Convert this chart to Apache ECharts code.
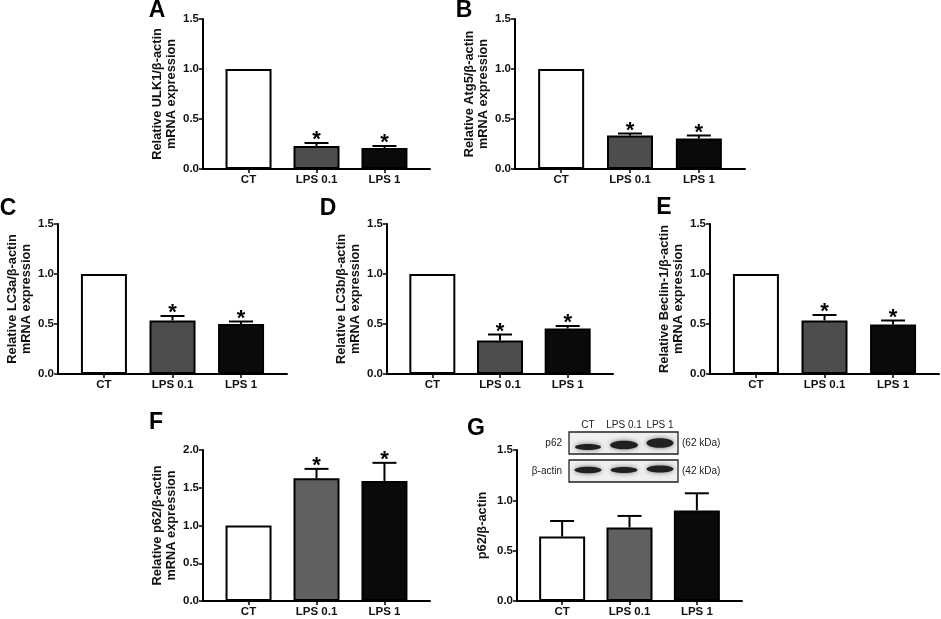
<!DOCTYPE html>
<html>
<head>
<meta charset="utf-8">
<script src="https://cdn.jsdelivr.net/npm/echarts@6/dist/echarts.min.js"></script>
<style>
html, body { margin: 0; padding: 0; background: #fff; }
#chart { width: 941px; height: 619px; }
</style>
</head>
<body>
<div id="chart"></div>
<script type="text/javascript">

var FONT = '"Liberation Sans", Arial, sans-serif';

// groups on every x axis
var groups = ['CT', 'LPS 0.1', 'LPS 1'];

// mean and SEM
var ulk1Mean = [1.00, 0.23, 0.21];
var ulk1Sem = [0, 0.03, 0.02];
var atg5Mean = [1.00, 0.335, 0.305];
var atg5Sem = [0, 0.02, 0.03];
var lc3aMean = [1.00, 0.535, 0.50];
var lc3aSem = [0, 0.045, 0.025];
var lc3bMean = [1.00, 0.335, 0.455];
var lc3bSem = [0, 0.06, 0.025];
var beclinMean = [1.00, 0.535, 0.495];
var beclinSem = [0, 0.055, 0.04];
var p62MrnaMean = [1.00, 1.625, 1.59];
var p62MrnaSem = [0, 0.125, 0.24];
var p62ProteinMean = [0.64, 0.73, 0.90];
var p62ProteinSem = [0.155, 0.115, 0.17];

// * = significant vs CT
var starMarks = [0, 1, 1];
var noMarks = [0, 0, 0];

// western blot inset
var blotRows = ['p62', 'β-actin'];
var blotSizes = ['(62 kDa)', '(42 kDa)'];

var panels = [
    {letter: 'A', title: 'Relative ULK1/β-actin\nmRNA expression', mean: ulk1Mean, sem: ulk1Sem, marks: starMarks,
        box: [203, 19, 227, 150], max: 1.5, letterAt: [157, 11], mid: '#4d4d4d'},
    {letter: 'B', title: 'Relative Atg5/β-actin\nmRNA expression', mean: atg5Mean, sem: atg5Sem, marks: starMarks,
        box: [515, 19, 230, 150], max: 1.5, letterAt: [464, 11], mid: '#4d4d4d'},
    {letter: 'C', title: 'Relative LC3a/β-actin\nmRNA expression', mean: lc3aMean, sem: lc3aSem, marks: starMarks,
        box: [58, 224, 229, 150], max: 1.5, letterAt: [8, 209], mid: '#4d4d4d'},
    {letter: 'D', title: 'Relative LC3b/β-actin\nmRNA expression', mean: lc3bMean, sem: lc3bSem, marks: starMarks,
        box: [387, 224, 226, 150], max: 1.5, letterAt: [328, 209], mid: '#4d4d4d'},
    {letter: 'E', title: 'Relative Beclin-1/β-actin\nmRNA expression', mean: beclinMean, sem: beclinSem, marks: starMarks,
        box: [710, 224, 229, 150], max: 1.5, letterAt: [664, 208], mid: '#4d4d4d'},
    {letter: 'F', title: 'Relative p62/β-actin\nmRNA expression', mean: p62MrnaMean, sem: p62MrnaSem, marks: starMarks,
        box: [203, 450, 227, 151], max: 2.0, letterAt: [156, 423], mid: '#606060'},
    {letter: 'G', title: 'p62/β-actin', mean: p62ProteinMean, sem: p62ProteinSem, marks: noMarks,
        box: [517, 450, 225, 151], max: 1.5, letterAt: [476, 429], mid: '#606060'}
];

function renderErr(params, api) {
    var x = api.value(0), m = api.value(1), e = api.value(2), s = api.value(3);
    var base = api.coord([x, m]);
    var top = api.coord([x, m + e]);
    var kids = [];
    if (e > 0) {
        kids.push({type: 'line', shape: {x1: base[0], y1: base[1], x2: top[0], y2: top[1]},
            style: {stroke: '#000', lineWidth: 2}});
        kids.push({type: 'line', shape: {x1: top[0] - 12, y1: top[1], x2: top[0] + 12, y2: top[1]},
            style: {stroke: '#000', lineWidth: 2}});
    }
    if (s) {
        kids.push({type: 'text', x: top[0], y: top[1] - 3,
            style: {text: '*', fontSize: 22, fontWeight: 'bold', fontFamily: FONT, fill: '#000',
                align: 'center', verticalAlign: 'middle'}});
    }
    return {type: 'group', children: kids};
}

var grids = [], xAxes = [], yAxes = [], series = [], graphics = [];

panels.forEach(function (p, k) {
    var twoLines = p.title.indexOf('\n') >= 0;
    grids.push({left: p.box[0], top: p.box[1], width: p.box[2], height: p.box[3], containLabel: false});
    xAxes.push({
        type: 'value', gridIndex: k, min: -0.67, max: 2.67,
        axisLine: {show: true, onZero: false, lineStyle: {color: '#000', width: 2}},
        axisTick: {show: true, customValues: [0, 1, 2], length: 4, lineStyle: {color: '#000', width: 1.5}},
        axisLabel: {customValues: [0, 1, 2], margin: 5, fontSize: 11.5, fontWeight: 'bold', fontFamily: FONT, color: '#111',
            formatter: function (v) { return groups[Math.round(v)]; }},
        splitLine: {show: false}
    });
    yAxes.push({
        type: 'value', gridIndex: k, min: 0, max: p.max, interval: 0.5,
        name: p.title, nameLocation: 'middle', nameRotate: 90, nameGap: twoLines ? 25 : 28,
        nameTextStyle: {fontSize: 12.8, fontWeight: 'bold', fontFamily: FONT, color: '#111', lineHeight: 14},
        axisLine: {show: true, onZero: false, lineStyle: {color: '#000', width: 2}},
        axisTick: {show: true, length: 4, lineStyle: {color: '#000', width: 1.5}},
        axisLabel: {margin: 4, fontSize: 11.5, fontWeight: 'bold', fontFamily: FONT, color: '#111',
            formatter: function (v) { return v.toFixed(1); }},
        splitLine: {show: false}
    });
    var colors = ['#ffffff', p.mid, '#0a0a0a'];
    series.push({
        type: 'bar', xAxisIndex: k, yAxisIndex: k, barWidth: 46,
        itemStyle: {borderColor: '#000', borderWidth: 2},
        data: p.mean.map(function (v, i) { return {value: [i, v], itemStyle: {color: colors[i]}}; }),
        silent: true, z: 2
    });
    series.push({
        type: 'custom', xAxisIndex: k, yAxisIndex: k, renderItem: renderErr,
        encode: {x: 0, y: 1},
        data: p.mean.map(function (v, i) { return [i, v, p.sem[i], p.marks[i]]; }),
        silent: true, z: 3
    });
    graphics.push({type: 'text', x: p.letterAt[0], y: p.letterAt[1],
        style: {text: p.letter, fontSize: 23, fontWeight: 'bold', fontFamily: FONT, fill: '#000',
            align: 'center', verticalAlign: 'middle'}});
});

// blot inset of panel G
var laneX = [588, 624, 660];
var boxY = [443, 471];
var bandY = [[447, 445, 443], [470, 470, 469]];
var bandW = [[13, 14, 13.5], [13.5, 13.5, 13.5]];
var bandH = [[3, 4.3, 4.8], [3.2, 3, 3.5]];
groups.forEach(function (g, i) {
    graphics.push({type: 'text', x: laneX[i], y: 425,
        style: {text: g, fontSize: 10, fontFamily: FONT, fill: '#222', align: 'center', verticalAlign: 'middle'}});
});
blotRows.forEach(function (r, j) {
    graphics.push({type: 'rect', shape: {x: 569, y: boxY[j] - 11, width: 109, height: 22},
        style: {fill: '#efefef', stroke: '#222', lineWidth: 1.3}, z: 5});
    graphics.push({type: 'text', x: 562, y: boxY[j],
        style: {text: r, fontSize: 10, fontFamily: FONT, fill: '#222', align: 'right', verticalAlign: 'middle'}});
    graphics.push({type: 'text', x: 682, y: boxY[j],
        style: {text: blotSizes[j], fontSize: 10, fontFamily: FONT, fill: '#222', align: 'left', verticalAlign: 'middle'}});
    laneX.forEach(function (x, i) {
        graphics.push({type: 'ellipse', shape: {cx: x, cy: bandY[j][i], rx: bandW[j][i], ry: bandH[j][i]},
            style: {fill: '#202020', shadowBlur: 5, shadowColor: 'rgba(0,0,0,0.55)'}, z: 6});
    });
});

var chart = echarts.init(document.getElementById('chart'), null, {renderer: 'canvas'});
chart.setOption({
    animation: false,
    backgroundColor: '#fff',
    textStyle: {fontFamily: FONT},
    grid: grids,
    xAxis: xAxes,
    yAxis: yAxes,
    series: series,
    graphic: graphics
});
</script>
</body>
</html>
